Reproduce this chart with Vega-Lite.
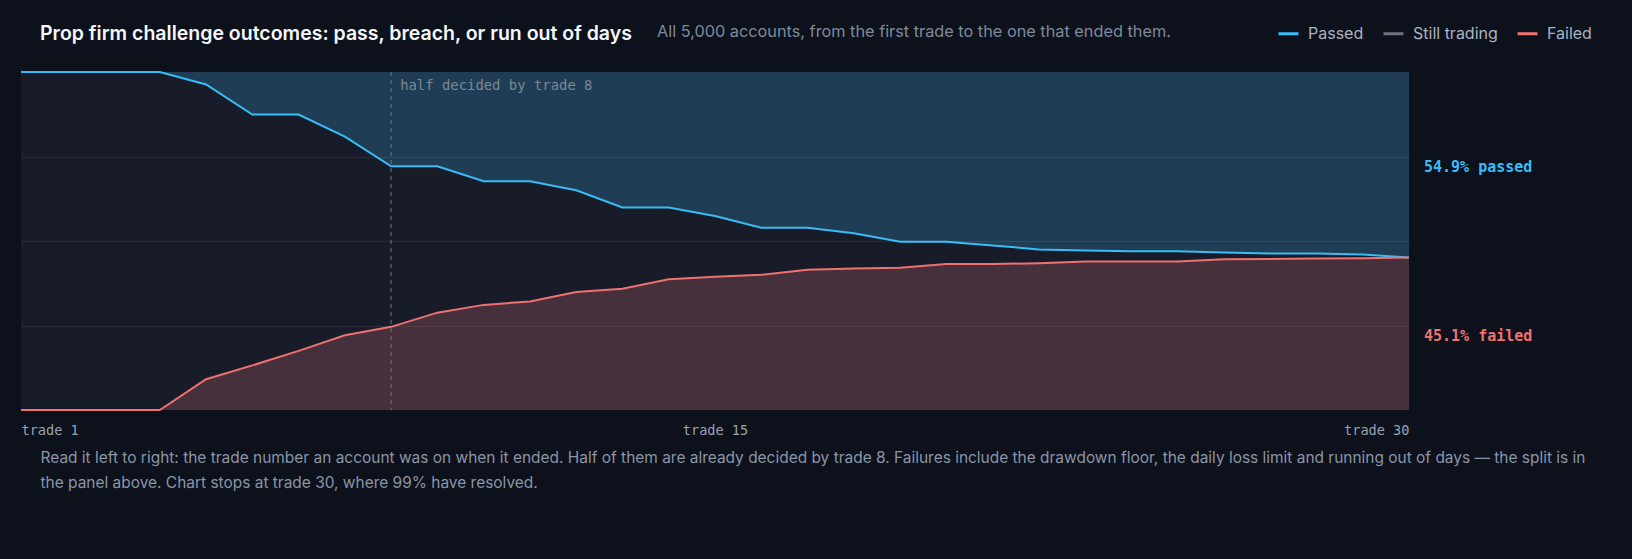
{
  "$schema": "https://vega.github.io/schema/vega-lite/v6.json",
  "autosize": {"type": "none"},
  "width": 1388,
  "height": 338,
  "padding": {"left": 21, "top": 72, "right": 223, "bottom": 149},
  "background": "#0c111b",
  "config": {
    "view": {"fill": "#181c29", "stroke": null},
    "font": "Inter"
  },
  "title": {
    "text": "Prop firm challenge outcomes: pass, breach, or run out of days",
    "anchor": "start",
    "frame": "group",
    "dx": 19,
    "offset": -22,
    "font": "Inter",
    "fontSize": 19.5,
    "fontWeight": 600,
    "color": "#f5f7fa"
  },
  "datasets": {
    "curve": [
      {"trade": 0, "passed": 0, "not_passed": 100, "failed": 0},
      {"trade": 1, "passed": 0, "not_passed": 100, "failed": 0},
      {"trade": 2, "passed": 0, "not_passed": 100, "failed": 0},
      {"trade": 3, "passed": 0, "not_passed": 100, "failed": 0},
      {"trade": 4, "passed": 3.7, "not_passed": 96.3, "failed": 9.1},
      {"trade": 5, "passed": 12.6, "not_passed": 87.4, "failed": 13.2},
      {"trade": 6, "passed": 12.6, "not_passed": 87.4, "failed": 17.5},
      {"trade": 7, "passed": 19.1, "not_passed": 80.9, "failed": 22.1},
      {"trade": 8, "passed": 27.9, "not_passed": 72.1, "failed": 24.6},
      {"trade": 9, "passed": 27.9, "not_passed": 72.1, "failed": 28.8},
      {"trade": 10, "passed": 32.3, "not_passed": 67.7, "failed": 31.1},
      {"trade": 11, "passed": 32.3, "not_passed": 67.7, "failed": 32.1},
      {"trade": 12, "passed": 35.0, "not_passed": 65.0, "failed": 34.9},
      {"trade": 13, "passed": 40.1, "not_passed": 59.9, "failed": 35.9},
      {"trade": 14, "passed": 40.1, "not_passed": 59.9, "failed": 38.7},
      {"trade": 15, "passed": 42.6, "not_passed": 57.4, "failed": 39.4},
      {"trade": 16, "passed": 46.1, "not_passed": 53.9, "failed": 40.0},
      {"trade": 17, "passed": 46.1, "not_passed": 53.9, "failed": 41.5},
      {"trade": 18, "passed": 47.7, "not_passed": 52.3, "failed": 41.9},
      {"trade": 19, "passed": 50.2, "not_passed": 49.8, "failed": 42.1},
      {"trade": 20, "passed": 50.2, "not_passed": 49.8, "failed": 43.2},
      {"trade": 21, "passed": 51.3, "not_passed": 48.7, "failed": 43.2},
      {"trade": 22, "passed": 52.5, "not_passed": 47.5, "failed": 43.4},
      {"trade": 23, "passed": 52.8, "not_passed": 47.2, "failed": 43.9},
      {"trade": 24, "passed": 53.0, "not_passed": 47.0, "failed": 43.9},
      {"trade": 25, "passed": 53.0, "not_passed": 47.0, "failed": 43.9},
      {"trade": 26, "passed": 53.4, "not_passed": 46.6, "failed": 44.6},
      {"trade": 27, "passed": 53.7, "not_passed": 46.3, "failed": 44.7},
      {"trade": 28, "passed": 53.7, "not_passed": 46.3, "failed": 44.8},
      {"trade": 29, "passed": 54.0, "not_passed": 46.0, "failed": 44.9},
      {"trade": 30, "passed": 54.9, "not_passed": 45.1, "failed": 45.1}
    ],
    "note": [{"trade": 8, "text": "half decided by trade 8"}],
    "ends": [
      {"trade": 30, "edge": 45.1, "outcome": "Passed", "label": "54.9% passed"},
      {"trade": 30, "edge": 45.1, "outcome": "Failed", "label": "45.1% failed"}
    ]
  },
  "layer": [
    {
      "data": {"name": "curve"},
      "mark": {"type": "area", "color": "#1f3e55", "opacity": 1},
      "encoding": {
        "x": {
          "field": "trade",
          "type": "quantitative",
          "scale": {"domain": [0, 30], "nice": false, "zero": false},
          "axis": {
            "values": [0, 15, 30],
            "labelExpr": "datum.value == 0 ? 'trade 1' : 'trade ' + datum.value",
            "labelFlush": true,
            "labelFont": "DejaVu Sans Mono",
            "labelFontSize": 13.6,
            "labelColor": "#9aa2b0",
            "labelPadding": 13,
            "ticks": false,
            "domain": false,
            "grid": false,
            "title": [
              "Read it left to right: the trade number an account was on when it ended. Half of them are already decided by trade 8. Failures include the drawdown floor, the daily loss limit and running out of days — the split is in",
              "the panel above. Chart stops at trade 30, where 99% have resolved."
            ],
            "titleX": 19,
            "titleY": 40,
            "titleAlign": "left",
            "titleAnchor": "start",
            "titleBaseline": "top",
            "titleFont": "Inter",
            "titleFontSize": 15.46,
            "titleFontWeight": 400,
            "titleColor": "#8b95a7",
            "titleLineHeight": 25,
            "titleLimit": 0
          }
        },
        "y": {
          "field": "not_passed",
          "type": "quantitative",
          "scale": {"domain": [0, 100], "nice": false},
          "axis": {
            "values": [25, 50, 75],
            "labels": false,
            "ticks": false,
            "domain": false,
            "title": null,
            "grid": true,
            "gridColor": "#ffffff",
            "gridOpacity": 0.07,
            "zindex": 1
          }
        },
        "y2": {"datum": 100}
      }
    },
    {
      "data": {"name": "curve"},
      "mark": {"type": "area", "color": "#45303c", "opacity": 1},
      "encoding": {
        "x": {"field": "trade", "type": "quantitative"},
        "y": {"field": "failed", "type": "quantitative"},
        "y2": {"datum": 0}
      }
    },
    {
      "data": {"name": "note"},
      "mark": {"type": "rule", "color": "#6b7383", "strokeDash": [4, 4], "strokeWidth": 1},
      "encoding": {"x": {"field": "trade", "type": "quantitative"}}
    },
    {
      "data": {"name": "note"},
      "mark": {"type": "text", "align": "left", "baseline": "middle", "dx": 9, "dy": 14, "font": "DejaVu Sans Mono", "fontSize": 13.9, "color": "#7d8797"},
      "encoding": {
        "x": {"field": "trade", "type": "quantitative"},
        "y": {"datum": 100},
        "text": {"field": "text"}
      }
    },
    {
      "data": {"name": "curve"},
      "mark": {"type": "line", "strokeWidth": 2},
      "encoding": {
        "x": {"field": "trade", "type": "quantitative"},
        "y": {"field": "not_passed", "type": "quantitative"},
        "color": {
          "datum": "Passed",
          "scale": {"domain": ["Passed", "Still trading", "Failed"], "range": ["#38bdf8", "#6b7280", "#f07171"]},
          "legend": {
            "orient": "none",
            "legendX": 636,
            "legendY": -50,
            "direction": "horizontal",
            "title": "All 5,000 accounts, from the first trade to the one that ended them.",
            "titleOrient": "left",
            "titleLimit": 0,
            "titleFont": "Inter",
            "titleFontSize": 16.3,
            "titleFontWeight": 400,
            "titleColor": "#7f8a9c",
            "titlePadding": 106,
            "symbolType": "stroke",
            "symbolStrokeWidth": 3,
            "symbolSize": 400,
            "labelFont": "Inter",
            "labelFontSize": 16,
            "labelColor": "#aab3c2",
            "labelOffset": 8,
            "labelLimit": 0,
            "columnPadding": 13
          }
        }
      }
    },
    {
      "data": {"name": "curve"},
      "mark": {"type": "line", "strokeWidth": 2},
      "encoding": {
        "x": {"field": "trade", "type": "quantitative"},
        "y": {"field": "failed", "type": "quantitative"},
        "color": {"datum": "Failed"}
      }
    },
    {
      "data": {"name": "ends"},
      "transform": [{"filter": "datum.outcome == 'Passed'"}],
      "mark": {"type": "text", "align": "left", "baseline": "middle", "dx": 15, "dy": -91, "font": "DejaVu Sans Mono", "fontSize": 15, "fontWeight": "bold", "color": "#38bdf8"},
      "encoding": {
        "x": {"field": "trade", "type": "quantitative"},
        "y": {"field": "edge", "type": "quantitative"},
        "text": {"field": "label"}
      }
    },
    {
      "data": {"name": "ends"},
      "transform": [{"filter": "datum.outcome == 'Failed'"}],
      "mark": {"type": "text", "align": "left", "baseline": "middle", "dx": 15, "dy": 78, "font": "DejaVu Sans Mono", "fontSize": 15, "fontWeight": "bold", "color": "#f07171"},
      "encoding": {
        "x": {"field": "trade", "type": "quantitative"},
        "y": {"field": "edge", "type": "quantitative"},
        "text": {"field": "label"}
      }
    }
  ]
}
